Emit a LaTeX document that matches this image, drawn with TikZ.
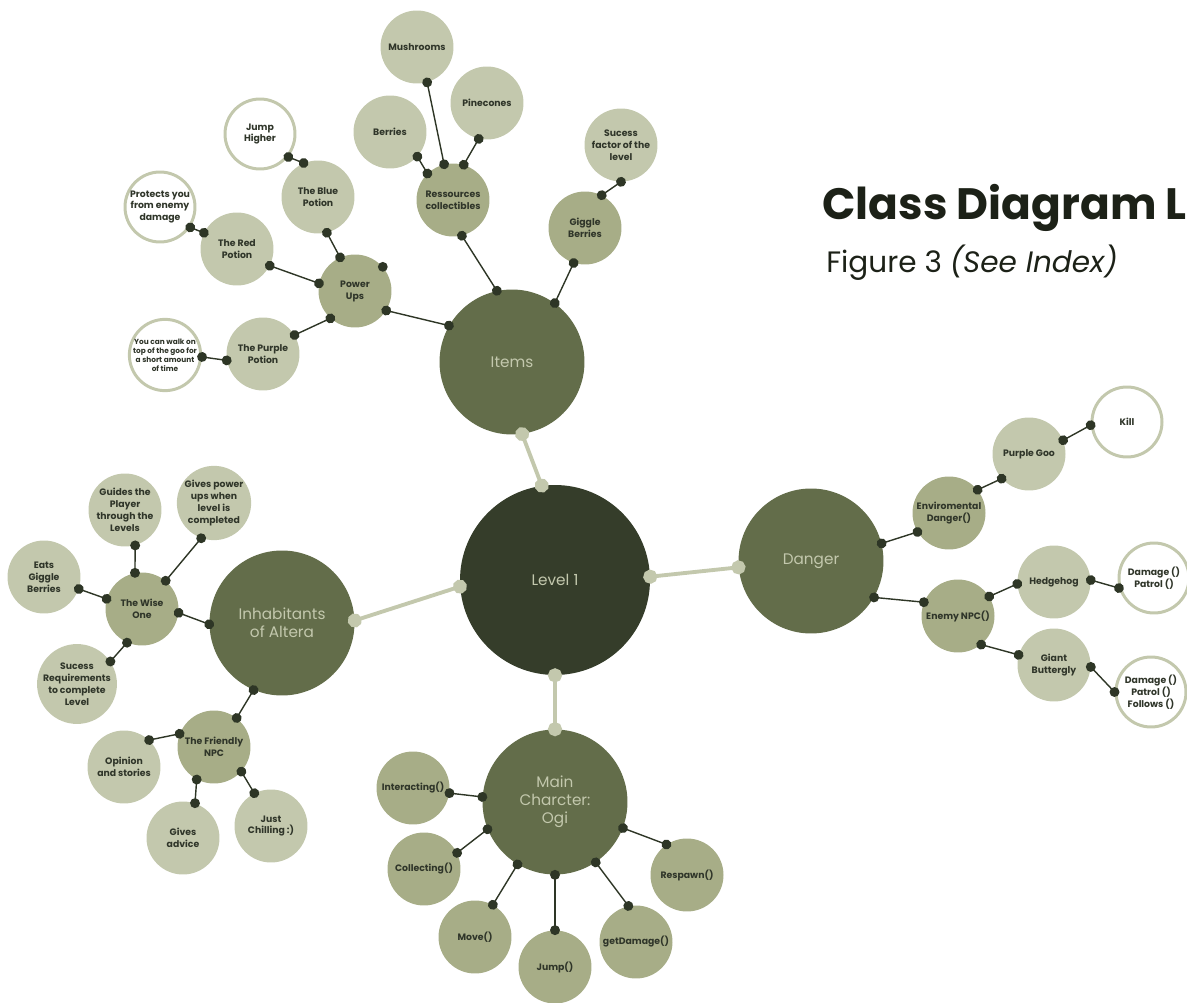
\documentclass[tikz,border=0pt]{standalone}
\usepackage{fontspec}
\setmainfont{Poppins}
\usepackage{xcolor}
\usetikzlibrary{arrows.meta}
\definecolor{oliveDeep}{HTML}{353D2A}
\definecolor{oliveMid}{HTML}{636D4A}
\definecolor{sageMid}{HTML}{A7AD87}
\definecolor{sageLight}{HTML}{C3C8AD}
\definecolor{inkDot}{HTML}{2E3626}
\definecolor{inkText}{HTML}{2F3529}
\definecolor{inkTitle}{HTML}{1C2117}
\tikzset{
  core/.style={circle, fill=oliveDeep, minimum size=3.8cm, inner sep=0pt,
               text=sageLight, font=\fontsize{8.7}{10}\selectfont},
  hub/.style={circle, fill=oliveMid, minimum size=2.9cm, inner sep=0pt, align=center,
              text=sageLight, font=\fontsize{8.7}{10.2}\selectfont},
  branch/.style={circle, fill=#1, minimum size=1.46cm, inner sep=0pt, align=center,
                 text=inkText, font=\bfseries\fontsize{5.3}{6.8}\selectfont},
  branch/.default=sageLight,
  note/.style={circle, draw=sageLight, line width=1.7pt, fill=white, minimum size=1.4cm,
               inner sep=0pt, align=center, text=inkText, font=\bfseries\fontsize{5.3}{6.8}\selectfont},
  trunk/.style={{Circle[length=8pt]}-{Circle[length=8pt]}, draw=sageLight, line width=2.2pt,
                shorten <=-4pt, shorten >=-4pt},
  twig/.style={{Circle[length=5.6pt]}-{Circle[length=5.6pt]}, draw=inkDot, line width=0.8pt,
               shorten <=-2.8pt, shorten >=-2.8pt},
}
\begin{document}
\begin{tikzpicture}[x=0.02cm, y=-0.02cm]
\useasboundingbox (0,0) rectangle (1187,1003);

% centre and main groups
\node[core] (lvl) at (555,580) {Level 1};
\node[hub] (items) at (512,362) {Items};
\node[hub] (danger) at (811,561) {Danger};
\node[hub] (folk) at (282,623) {Inhabitants\\of Altera};
\node[hub] (ogi) at (555,802) {Main\\Charcter:\\Ogi};
\draw[trunk] (lvl.98) -- (items.278);
\draw[trunk] (lvl.2) -- (danger.185);
\draw[trunk] (lvl.184) -- (folk.2);
\draw[trunk] (lvl.270) -- (ogi.90);

% items
\node[branch=sageMid] (stock) at (453,200) {Ressources\\collectibles};
\node[branch=sageMid] (giggle) at (585,228) {Giggle\\Berries};
\node[branch=sageMid] (power) at (355,291) {Power\\Ups};
\node[branch] (mush) at (417,47) {Mushrooms};
\node[branch] (pine) at (487,103) {Pinecones};
\node[branch] (berries) at (390,132) {Berries};
\node[branch] (goal) at (621,145) {Sucess\\factor of the\\level};
\node[branch] (blue) at (318,197) {The Blue\\Potion};
\node[branch] (red) at (237,249) {The Red\\Potion};
\node[branch] (purple) at (263,354) {The Purple\\Potion};
\node[note] (higher) at (260,134) {Jump\\Higher};
\node[note] (shield) at (160,207) {Protects you\\from enemy\\damage};
\node[note, font=\bfseries\fontsize{4.2}{5.1}\selectfont] (walk) at (165,355)
  {You can walk on\\top of the goo for\\a short amount\\of time};
\draw[twig] (items.102) -- (stock.284);
\draw[twig] (items.54) -- (giggle.252);
\draw[twig] (items.150) -- (power.328);
\draw[twig] (stock.104) -- (mush.286);
\draw[twig] (stock.73) -- (pine.257);
\draw[twig] (stock.134) -- (berries.318);
\draw[twig] (giggle.63) -- (goal.270);
\draw[twig] (power.114) -- (blue.284);
\draw[twig] (power.168) -- (red.333);
\draw[twig] (power.228) -- (purple.31);
\draw[twig] (blue.113) -- (higher.321);
\draw[twig] (red.154) -- (shield.326);
\draw[twig] (purple.190) -- (walk.357);
\fill[inkDot] (power.41) circle (2.8pt);

% inhabitants
\node[branch=sageMid] (wise) at (142,609) {The Wise\\One};
\node[branch] (guide) at (125,510) {Guides the\\Player\\through the\\Levels};
\node[branch] (reward) at (214,503) {Gives power\\ups when\\level is\\completed};
\node[branch] (eats) at (44,577) {Eats\\Giggle\\Berries};
\node[branch] (needs) at (77,684) {Sucess\\Requirements\\to complete\\Level};
\node[branch=sageMid] (friendly) at (214,747) {The Friendly\\NPC};
\node[branch] (opinion) at (124,767) {Opinion\\and stories};
\node[branch] (advice) at (183,838) {Gives\\advice};
\node[branch] (chill) at (271,826) {Just\\Chilling :)};
\draw[twig] (folk.181) -- (wise.354);
\draw[twig] (wise.101) -- (guide.286);
\draw[twig] (wise.50) -- (reward.250);
\draw[twig] (wise.164) -- (eats.341);
\draw[twig] (wise.246) -- (needs.34);
\draw[twig] (folk.247) -- (friendly.52);
\draw[twig] (friendly.159) -- (opinion.47);
\draw[twig] (friendly.242) -- (advice.71);
\draw[twig] (friendly.318) -- (chill.117);

% main character
\node[branch=sageMid] (interact) at (413,788) {Interacting()};
\node[branch=sageMid] (collect) at (424,869) {Collecting()};
\node[branch=sageMid] (move) at (475,937) {Move()};
\node[branch=sageMid] (leap) at (555,967) {Jump()};
\node[branch=sageMid] (hurt) at (636,942) {getDamage()};
\node[branch=sageMid] (respawn) at (687,875) {Respawn()};
\draw[twig] (ogi.176) -- (interact.352);
\draw[twig] (ogi.202) -- (collect.26);
\draw[twig] (ogi.239) -- (move.61);
\draw[twig] (ogi.270) -- (leap.90);
\draw[twig] (ogi.304) -- (hurt.102);
\draw[twig] (ogi.339) -- (respawn.124);

% danger
\node[branch=sageMid] (env) at (949,513) {Enviromental\\Danger()};
\node[branch] (goo) at (1029,454) {Purple Goo};
\node[note] (kill) at (1127,422) {Kill};
\node[branch=sageMid] (enemy) at (958,616) {Enemy NPC()};
\node[branch] (hog) at (1054,582) {Hedgehog};
\node[branch] (fly) at (1054,665) {Giant\\Buttergly};
\node[note] (hogacts) at (1154,578) {Damage ()\\Patrol ()};
\node[note] (flyacts) at (1151,692) {Damage ()\\Patrol ()\\Follows ()};
\draw[twig] (danger.14) -- (env.211);
\draw[twig] (env.39) -- (goo.222);
\draw[twig] (goo.22) -- (kill.185);
\draw[twig] (danger.330) -- (enemy.158);
\draw[twig] (enemy.32) -- (hog.183);
\draw[twig] (enemy.309) -- (fly.164);
\draw[twig] (hog.3) -- (hogacts.196);
\draw[twig] (fly.357) -- (flyacts.180);

% heading
\node[anchor=base west, inner sep=0pt, text=inkTitle, font=\bfseries\fontsize{25}{29}\selectfont]
  (title) at (822,220) {Class Diagram L};
\node[anchor=base west, inner sep=0pt, text=inkTitle, font=\fontsize{16.8}{20}\selectfont]
  (figref) at (826,273) {Figure 3 \textit{(See Index)}};
\end{tikzpicture}
\end{document}
